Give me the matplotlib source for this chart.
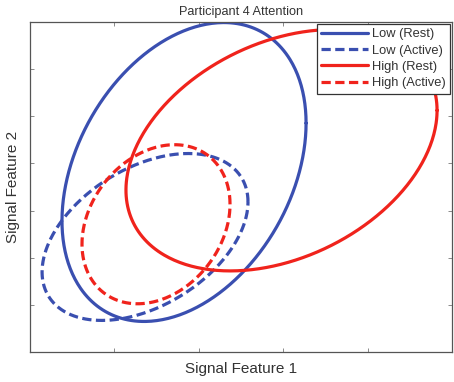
import numpy as np
import matplotlib
matplotlib.use("Agg")
import matplotlib.pyplot as plt

plt.rcParams['font.family'] = ['Liberation Sans', 'DejaVu Sans']

# ellipse params (data units): centre x, centre y, x half-range, y half-range, correlation
labels = ["Low (Rest)", "Low (Active)", "High (Rest)", "High (Active)"]
centre_x = [1.825, 1.363, 2.980, 1.493]
centre_y = [3.818, 2.440, 4.280, 2.710]
half_x = [1.446, 1.220, 1.843, 0.877]
half_y = [3.170, 1.770, 2.560, 1.687]
corr = [0.327, 0.42, 0.33, 0.25]
colors = ["#3a4fb0", "#3a4fb0", "#f0231c", "#f0231c"]
styles = ["-", "--", "-", "--"]

fig = plt.figure(figsize=(4.54, 3.82), dpi=100)
ax = fig.add_axes([30/454, 30/382, 422/454, 330/382])

t = np.linspace(0, 2*np.pi, 400)
for i in range(4):
	phi = np.arccos(corr[i])
	x = centre_x[i] + half_x[i]*np.cos(t)
	y = centre_y[i] + half_y[i]*np.cos(t - phi)
	if styles[i] == "--":
		ax.plot(x, y, color=colors[i], lw=2.3, dashes=(2.9, 1.4), label=labels[i])
	else:
		ax.plot(x, y, color=colors[i], lw=2.3, solid_capstyle='round', label=labels[i])

ax.set_xlim(0, 5)
ax.set_ylim(0, 7)
ax.set_xticks([1, 2, 3, 4])
ax.set_yticks([1, 2, 3, 4, 5, 6])
ax.tick_params(direction='in', length=3, width=0.6, colors='#777777',
	labelbottom=False, labelleft=False, top=True, right=True)
for s in ax.spines.values():
	s.set_color('#555555')
	s.set_linewidth(0.9)

ax.set_title("Participant 4 Attention", fontsize=9.2, color='#333333', pad=5)
ax.set_xlabel("Signal Feature 1", fontsize=11, color='#333333', labelpad=7)
ax.set_ylabel("Signal Feature 2", fontsize=11, color='#333333', labelpad=7)

leg = ax.legend(loc='upper right', fontsize=9.3, handlelength=3.6, handletextpad=0.3,
	labelspacing=0.32, borderpad=0.35, borderaxespad=0.15, fancybox=False,
	framealpha=1, edgecolor='#333333')
leg.get_frame().set_linewidth(0.9)
for txt in leg.get_texts():
	txt.set_color('#333333')

fig.savefig("out.png", dpi=100)
